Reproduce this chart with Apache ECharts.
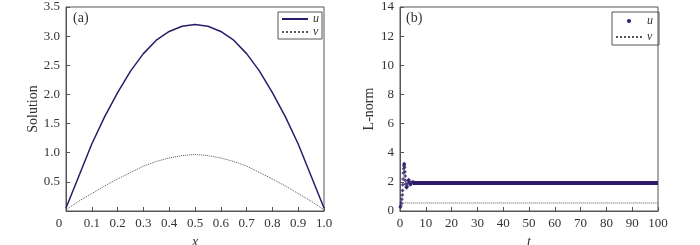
<!DOCTYPE html>
<html>
<head>
	<meta charset="UTF-8">
	<title></title>
	<style>
		html, body { margin: 0; padding: 0; background: #fff; }
		#chart { width: 700px; height: 245px; }
	</style>
	<script src="https://cdn.jsdelivr.net/npm/echarts@6/dist/echarts.min.js"></script>
</head>
<body>
	<div id="chart"></div>
	<script>
		// panel (a): solution profiles over x
		var xs = [0, 0.05, 0.1, 0.15, 0.2, 0.25, 0.3, 0.35, 0.4, 0.45, 0.5, 0.55, 0.6, 0.65, 0.7, 0.75, 0.8, 0.85, 0.9, 0.95, 1.0];
		var uA = [0.05, 0.6, 1.15, 1.62, 2.03, 2.4, 2.7, 2.93, 3.08, 3.17, 3.2, 3.17, 3.08, 2.93, 2.7, 2.4, 2.03, 1.62, 1.15, 0.6, 0.05];
		var vA = [0.02, 0.17, 0.3, 0.43, 0.55, 0.66, 0.77, 0.85, 0.91, 0.95, 0.97, 0.95, 0.91, 0.85, 0.77, 0.66, 0.55, 0.43, 0.3, 0.17, 0.02];

		// panel (b): norms over time
		var uTransient = [[0.1, 0.25], [0.3, 0.35], [0.5, 0.55], [0.7, 0.8], [0.9, 1.1], [1.0, 1.4], [1.1, 1.8], [1.2, 2.2],
			[1.3, 2.6], [1.4, 2.9], [1.5, 3.1], [1.6, 3.25], [1.7, 3.2], [1.8, 3.0], [1.9, 2.7], [2.0, 2.4], [2.1, 2.1],
			[2.2, 1.85], [2.4, 1.65], [2.6, 1.6], [2.8, 1.7], [3.0, 1.9], [3.2, 2.1], [3.4, 2.15], [3.6, 2.05], [3.8, 1.9],
			[4.0, 1.8], [4.3, 1.85], [4.6, 1.95], [5.0, 2.0], [5.5, 1.95], [6.0, 1.9]];
		var uSteady = [[5, 1.92], [100, 1.92]];
		var vB = [[0, 0.0], [0.5, 0.3], [1.0, 0.5], [1.5, 0.6], [2.0, 0.56], [3.0, 0.55], [100, 0.55]];

		var serif = '"Liberation Serif", "DejaVu Serif", serif';
		var ink = '#2d1b69';
		var frame = '#555';

		function axisCommon() {
			return {
				axisLine: { show: true, lineStyle: { color: frame } },
				axisTick: { show: true, inside: true, length: 4, lineStyle: { color: frame } },
				splitLine: { show: false },
				axisLabel: { color: '#333', fontFamily: serif, fontSize: 13, margin: 6 },
				nameTextStyle: { color: '#333', fontFamily: serif, fontSize: 14 }
			};
		}

		var xa0 = axisCommon();
		xa0.gridIndex = 0; xa0.type = 'value'; xa0.min = 0; xa0.max = 1; xa0.interval = 0.1;
		xa0.name = 'x'; xa0.nameLocation = 'middle'; xa0.nameGap = 22;
		xa0.nameTextStyle.fontStyle = 'italic';
		xa0.axisLabel.formatter = function (v) { return v === 0 ? '{z|0}' : v.toFixed(1); };
		xa0.axisLabel.rich = { z: { fontFamily: serif, fontSize: 13, color: '#333', padding: [0, 14, 0, 0] } };

		var ya0 = axisCommon();
		ya0.gridIndex = 0; ya0.type = 'value'; ya0.min = 0; ya0.max = 3.5; ya0.interval = 0.5;
		ya0.name = 'Solution'; ya0.nameLocation = 'middle'; ya0.nameGap = 26;
		ya0.axisLabel.formatter = function (v) { return v === 0 ? '' : v.toFixed(1); };

		var xa1 = axisCommon();
		xa1.gridIndex = 1; xa1.type = 'value'; xa1.min = 0; xa1.max = 100; xa1.interval = 10;
		xa1.name = 't'; xa1.nameLocation = 'middle'; xa1.nameGap = 22;
		xa1.nameTextStyle.fontStyle = 'italic';

		var ya1 = axisCommon();
		ya1.gridIndex = 1; ya1.type = 'value'; ya1.min = 0; ya1.max = 14; ya1.interval = 2;
		ya1.name = 'L-norm'; ya1.nameLocation = 'middle'; ya1.nameGap = 24;

		var legendText = { fontFamily: serif, fontSize: 12, lineHeight: 9, fontStyle: 'italic', color: '#333' };

		var chart = echarts.init(document.getElementById('chart'));
		chart.setOption({
			animation: false,
			grid: [
				{ left: 66, top: 7, width: 258, height: 204, show: true, borderColor: frame, borderWidth: 1, outerBoundsMode: 'none' },
				{ left: 400, top: 7, width: 258, height: 204, show: true, borderColor: frame, borderWidth: 1, outerBoundsMode: 'none' }
			],
			xAxis: [xa0, xa1],
			yAxis: [ya0, ya1],
			legend: [
				{
					orient: 'vertical', left: 278, top: 12, itemWidth: 26, itemHeight: 8, itemGap: 1,
					padding: [1, 3, 1, 3], borderColor: frame, borderWidth: 1,
					textStyle: legendText, itemStyle: { opacity: 0 },
					data: ['u', 'v'],
					seriesIndex: [0, 1]
				},
				{
					orient: 'vertical', left: 612, top: 12, itemWidth: 26, itemHeight: 4, itemGap: 4,
					padding: [3, 3, 2, 3], borderColor: frame, borderWidth: 1,
					textStyle: legendText, itemStyle: { opacity: 0 },
					data: [{ name: 'u ', icon: 'circle', itemStyle: { opacity: 1 } }, 'v '],
					seriesIndex: [2, 3, 4]
				}
			],
			graphic: [
				{ type: 'text', left: 73, top: 11, style: { text: '(a)', font: '14px ' + serif, fill: '#333' } },
				{ type: 'text', left: 406, top: 11, style: { text: '(b)', font: '14px ' + serif, fill: '#333' } }
			],
			series: [
				{
					name: 'u', type: 'line', xAxisIndex: 0, yAxisIndex: 0, symbol: 'none',
					lineStyle: { color: ink, width: 1.5 }, itemStyle: { color: ink },
					data: xs.map(function (x, i) { return [x, uA[i]]; })
				},
				{
					name: 'v', type: 'line', xAxisIndex: 0, yAxisIndex: 0, symbol: 'none',
					lineStyle: { color: '#555', width: 1, type: 'dotted' }, itemStyle: { color: '#555' },
					data: xs.map(function (x, i) { return [x, vA[i]]; })
				},
				{
					name: 'u ', type: 'scatter', xAxisIndex: 1, yAxisIndex: 1, symbol: 'diamond', symbolSize: 4,
					itemStyle: { color: ink },
					data: uTransient
				},
				{
					name: 'u ', type: 'line', xAxisIndex: 1, yAxisIndex: 1, symbol: 'none',
					lineStyle: { color: ink, width: 4 }, itemStyle: { color: ink },
					data: uSteady
				},
				{
					name: 'v ', type: 'line', xAxisIndex: 1, yAxisIndex: 1, symbol: 'none',
					lineStyle: { color: '#555', width: 1, type: 'dotted' }, itemStyle: { color: '#555' },
					data: vB
				}
			]
		});
	</script>
</body>
</html>
